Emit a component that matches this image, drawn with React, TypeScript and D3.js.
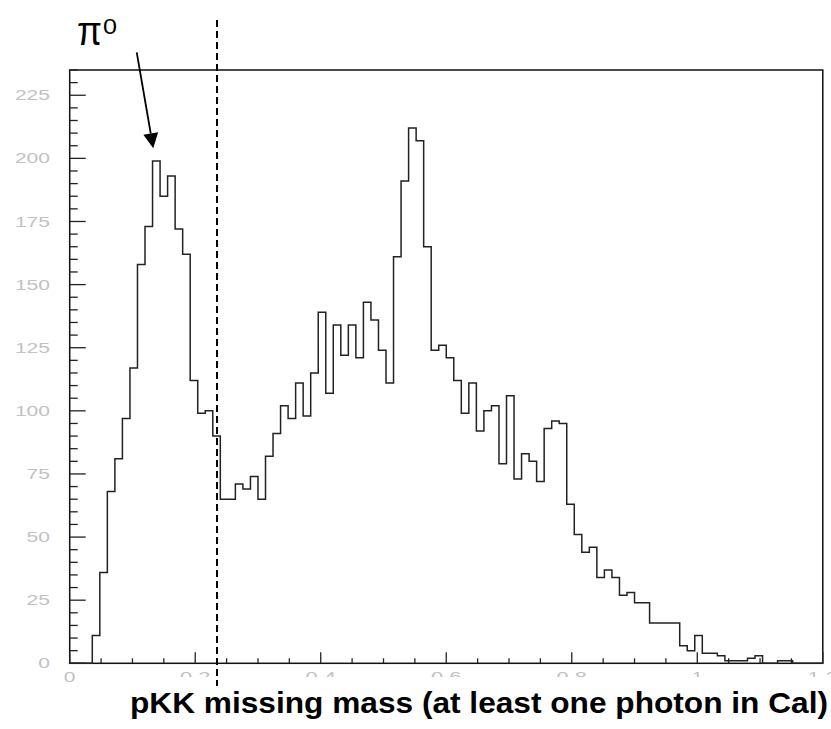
import React from "react";
import * as d3 from "d3";

// Histogram: pKK missing mass, 100 bins of width 0.012 from 0 to 1.2
const binWidth = 0.012;
const counts: number[] = [
  0, 0, 0, 11, 36, 68, 81, 97, 117, 158,
  173, 199, 185, 193, 172, 162, 112, 99, 100, 90,
  65, 65, 71, 69, 74, 65, 82, 91, 102, 97,
  111, 98, 115, 139, 107, 134, 122, 134, 121, 143,
  136, 124, 111, 161, 191, 212, 207, 165, 124, 126,
  121, 112, 99, 111, 92, 100, 102, 79, 106, 73,
  83, 80, 72, 93, 96, 95, 63, 51, 44, 46,
  34, 37, 34, 27, 28, 24, 24, 16, 16, 16,
  16, 7, 5, 11, 4, 4, 3, 1, 1, 1,
  2, 3, 0, 0, 1, 1, 0, 0, 0, 0,
];

const xMajorTicks: number[] = [0, 0.2, 0.4, 0.6, 0.8, 1, 1.2];
const xTickLabels: string[] = ["0", "0.2", "0.4", "0.6", "0.8", "1", "1.2"];
const yMajorTicks: number[] = [0, 25, 50, 75, 100, 125, 150, 175, 200, 225];
const yTickLabels: string[] = ["0", "25", "50", "75", "100", "125", "150", "175", "200", "225"];

const xLabel = "pKK missing mass (at least one photon in Cal)";
const peakLabel = "π";
const peakSup = "0";
const cutValue = 0.235; // dashed cut line
const arrowFrom = [0.1068, 242];
const arrowTo = [0.1332, 204];

const W = 831;
const H = 729;

function labelLen(s: string) {
  let n = 0;
  for (const c of s) n += c === "." ? 7 : 11.7;
  return n;
}

export default function App() {
  const x = d3.scaleLinear().domain([0, 1.2]).range([69.7, 822.8]);
  const y = d3.scaleLinear().domain([0, 235]).range([663.3, 70]);

  const pts: [number, number][] = counts.map((c, i) => [i * binWidth, c]);
  pts.push([counts.length * binWidth, 0]);
  const line = d3
    .line<[number, number]>()
    .x((d) => x(d[0]))
    .y((d) => y(d[1]))
    .curve(d3.curveStepAfter);
  const histPath = "M" + x(0) + "," + y(0) + "L" + (line(pts) as string).slice(1);

  const xMinor = d3.range(0, 1.2001, 0.05).filter(
    (v) => !xMajorTicks.some((m) => Math.abs(m - v) < 1e-6)
  );
  const yMinor = d3.range(0, 235.1, 5).filter((v) => v % 25 !== 0);

  // arrow geometry
  const ax1 = x(arrowFrom[0]), ay1 = y(arrowFrom[1]);
  const ax2 = x(arrowTo[0]), ay2 = y(arrowTo[1]);
  const dx = ax2 - ax1, dy = ay2 - ay1;
  const len = Math.hypot(dx, dy);
  const ux = dx / len, uy = dy / len;
  const headL = 15, headW = 7.5;
  const bx = ax2 - ux * headL, by = ay2 - uy * headL;
  const head = `${ax2},${ay2} ${bx - uy * headW},${by + ux * headW} ${bx + uy * headW},${by - ux * headW}`;

  const tickFont = "'Liberation Sans', Arial, sans-serif";
  const tickColor = "#c2c2c2";
  const cutX = Math.round(x(cutValue));

  return (
    <svg
      width={W}
      height={H}
      style={{ position: "absolute", left: 0, top: 0, background: "#fff" }}
    >
      <rect x={0} y={0} width={W} height={H} fill="#fff" />

      {/* Y tick labels */}
      {yMajorTicks.map((v, i) => (
        <text
          key={"yl" + v}
          x={50}
          y={y(v)}
          dy="0.36em"
          textAnchor="end"
          fontFamily={tickFont}
          fontSize={14}
          fill={tickColor}
          textLength={labelLen(yTickLabels[i])}
          lengthAdjust="spacingAndGlyphs"
        >
          {yTickLabels[i]}
        </text>
      ))}

      {/* X tick labels */}
      {xMajorTicks.map((v, i) => (
        <text
          key={"xl" + v}
          x={x(v) - labelLen(xTickLabels[i]) / 2}
          y={681.7}
          fontFamily={tickFont}
          fontSize={14}
          fill={tickColor}
          textLength={labelLen(xTickLabels[i])}
          lengthAdjust="spacingAndGlyphs"
        >
          {xTickLabels[i]}
        </text>
      ))}

      {/* white box behind x title (covers part of the tick labels) */}
      <rect x={118} y={677} width={W - 118} height={H - 677} fill="#fff" />

      {/* Frame */}
      <rect
        x={x(0)}
        y={y(235)}
        width={x(1.2) - x(0)}
        height={y(0) - y(235)}
        fill="none"
        stroke="#111"
        strokeWidth={1.5}
      />

      {/* Y ticks */}
      {yMajorTicks.map((v) => (
        <line key={"yt" + v} x1={x(0)} x2={x(0) + 16} y1={y(v)} y2={y(v)} stroke="#222" strokeWidth={1.3} />
      ))}
      {yMinor.map((v) => (
        <line key={"ym" + v} x1={x(0)} x2={x(0) + 8} y1={y(v)} y2={y(v)} stroke="#222" strokeWidth={1.3} />
      ))}

      {/* X ticks */}
      {xMajorTicks.map((v) => (
        <line key={"xt" + v} x1={x(v)} x2={x(v)} y1={y(0)} y2={y(0) - 11} stroke="#222" strokeWidth={1.3} />
      ))}
      {xMinor.map((v) => (
        <line key={"xm" + v} x1={x(v)} x2={x(v)} y1={y(0)} y2={y(0) - 5} stroke="#222" strokeWidth={1.3} />
      ))}

      {/* Histogram */}
      <path d={histPath} fill="none" stroke="#222" strokeWidth={1.5} />

      {/* Dashed cut line */}
      <line
        x1={cutX}
        x2={cutX}
        y1={20}
        y2={686}
        stroke="#000"
        strokeWidth={2}
        strokeDasharray="7,4"
        shapeRendering="crispEdges"
      />

      {/* pi0 annotation */}
      <text
        x={77}
        y={45}
        fontFamily={tickFont}
        fontSize={40}
        fill="#000"
        textLength={25}
        lengthAdjust="spacingAndGlyphs"
      >
        {peakLabel}
      </text>
      <text
        x={103}
        y={33.5}
        fontFamily={tickFont}
        fontSize={22}
        fill="#000"
        textLength={14}
        lengthAdjust="spacingAndGlyphs"
      >
        {peakSup}
      </text>
      <line x1={ax1} y1={ay1} x2={bx} y2={by} stroke="#000" strokeWidth={1.8} />
      <polygon points={head} fill="#000" />

      {/* X title */}
      <text
        x={130}
        y={713.3}
        fontFamily={tickFont}
        fontWeight="bold"
        fontSize={30}
        fill="#000"
        textLength={698}
        lengthAdjust="spacingAndGlyphs"
      >
        {xLabel}
      </text>
    </svg>
  );
}
